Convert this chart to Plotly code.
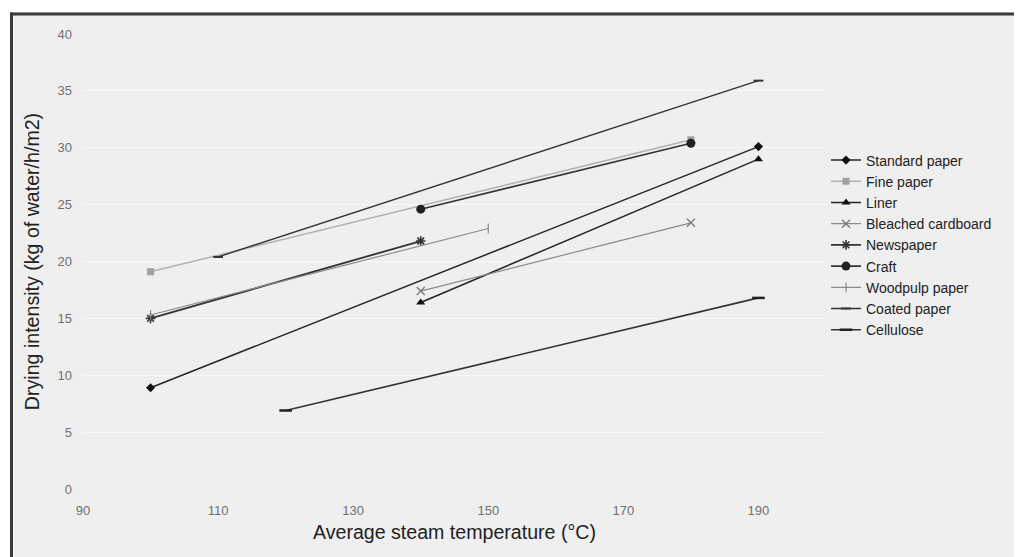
import plotly.graph_objects as go

# ---- data ----
series_names = ["Standard paper", "Fine paper", "Liner", "Bleached cardboard", "Newspaper",
                "Craft", "Woodpulp paper", "Coated paper", "Cellulose"]
standard_x = [100, 190]; standard_y = [8.9, 30.1]
fine_x = [100, 180];     fine_y = [19.1, 30.7]
liner_x = [140, 190];    liner_y = [16.4, 29.0]
bleached_x = [140, 180]; bleached_y = [17.4, 23.4]
news_x = [100, 140];     news_y = [15.0, 21.8]
craft_x = [140, 180];    craft_y = [24.6, 30.4]
woodpulp_x = [100, 150]; woodpulp_y = [15.3, 22.9]
coated_x = [110, 190];   coated_y = [20.4, 35.9]
cellulose_x = [120, 190]; cellulose_y = [6.9, 16.8]

x_tickvals = [90, 110, 130, 150, 170, 190]
y_tickvals = [0, 5, 10, 15, 20, 25, 30, 35, 40]

xs = [standard_x, fine_x, liner_x, bleached_x, news_x, craft_x, woodpulp_x, coated_x, cellulose_x]
ys = [standard_y, fine_y, liner_y, bleached_y, news_y, craft_y, woodpulp_y, coated_y, cellulose_y]

styles = [
    dict(line=dict(color="#262626", width=1.5), marker=dict(symbol="diamond", size=7, color="#111111")),
    dict(line=dict(color="#b0b0b0", width=1.4), marker=dict(symbol="square", size=7, color="#a0a0a0")),
    dict(line=dict(color="#262626", width=1.5), marker=dict(symbol="triangle-up", size=8, color="#111111")),
    dict(line=dict(color="#8a8a8a", width=1.2), marker=dict(symbol="x-thin-open", size=8, color="#777777",
                                                           line=dict(color="#777777", width=1.3))),
    dict(line=dict(color="#333333", width=1.8), marker=dict(symbol="asterisk-open", size=8, color="#333333",
                                                           line=dict(color="#333333", width=1.6))),
    dict(line=dict(color="#333333", width=1.6), marker=dict(symbol="circle", size=9, color="#222222")),
    dict(line=dict(color="#8a8a8a", width=1.2), marker=dict(symbol="line-ns-open", size=7, color="#888888",
                                                           line=dict(color="#888888", width=1.2))),
    dict(line=dict(color="#333333", width=1.4), marker=dict(symbol="line-ew-open", size=7, color="#333333",
                                                           line=dict(color="#333333", width=2))),
    dict(line=dict(color="#333333", width=1.6), marker=dict(symbol="line-ew-open", size=9, color="#222222",
                                                           line=dict(color="#222222", width=2.5))),
]

fig = go.Figure()
for name, x, y, st in zip(series_names, xs, ys, styles):
    fig.add_trace(go.Scatter(x=x, y=y, name=name, mode="lines+markers", **st))

BG = "#efefef"
OFF = 8  # the page body offsets the figure by 8 px
FW, FH = 1022, 557
L, R, T, B = 83 - OFF, FW - (826 - OFF), 34 - OFF, FH - (489 - OFF)
W = FW - L - R
H = FH - T - B

def px_x(p):
    # screen pixel -> paper x
    return (p - OFF - L) / W

def px_y(p):
    # screen pixel -> paper y
    return (FH - B - (p - OFF)) / H

shapes = [
    # white band at top
    dict(type="rect", xref="paper", yref="paper", x0=px_x(0), x1=px_x(1040), y0=px_y(12), y1=px_y(0),
         fillcolor="white", line=dict(width=0), layer="above"),
    # white band at left
    dict(type="rect", xref="paper", yref="paper", x0=px_x(0), x1=px_x(10), y0=px_y(600), y1=px_y(0),
         fillcolor="white", line=dict(width=0), layer="above"),
    # frame top border
    dict(type="line", xref="paper", yref="paper", x0=px_x(10), x1=px_x(1040), y0=px_y(14), y1=px_y(14),
         line=dict(color="#3a3a3a", width=3), layer="above"),
    # frame left border
    dict(type="line", xref="paper", yref="paper", x0=px_x(11.5), x1=px_x(11.5), y0=px_y(600), y1=px_y(12.5),
         line=dict(color="#3a3a3a", width=3), layer="above"),
]

fig.update_layout(
    width=FW, height=FH,
    margin=dict(l=L, r=R, t=T, b=B, autoexpand=False),
    paper_bgcolor=BG, plot_bgcolor=BG,
    font=dict(family="Liberation Sans, Arial, sans-serif", color="#222222"),
    showlegend=True,
    legend=dict(x=1.0, xanchor="left", y=px_y(245), yanchor="middle",
                font=dict(size=14, color="#222222"), bgcolor="rgba(0,0,0,0)"),
    shapes=shapes,
    xaxis=dict(range=[90, 200], tickvals=x_tickvals, showgrid=False, zeroline=False, showline=False,
               ticks="", ticklabelstandoff=12, tickfont=dict(size=13, color="#707070"),
               title=dict(text="Average steam temperature (°C)", font=dict(size=19.6, color="#222222"),
                          standoff=8)),
    yaxis=dict(range=[0, 40], tickvals=y_tickvals, showgrid=True, gridcolor="#f8f8f8", gridwidth=1,
               zeroline=False, showline=False, ticks="", ticklabelstandoff=10,
               tickfont=dict(size=13, color="#707070"),
               title=dict(text="Drying intensity (kg of water/h/m2)", font=dict(size=19.6, color="#222222"),
                          standoff=12)),
)

fig.write_html("out.html")
